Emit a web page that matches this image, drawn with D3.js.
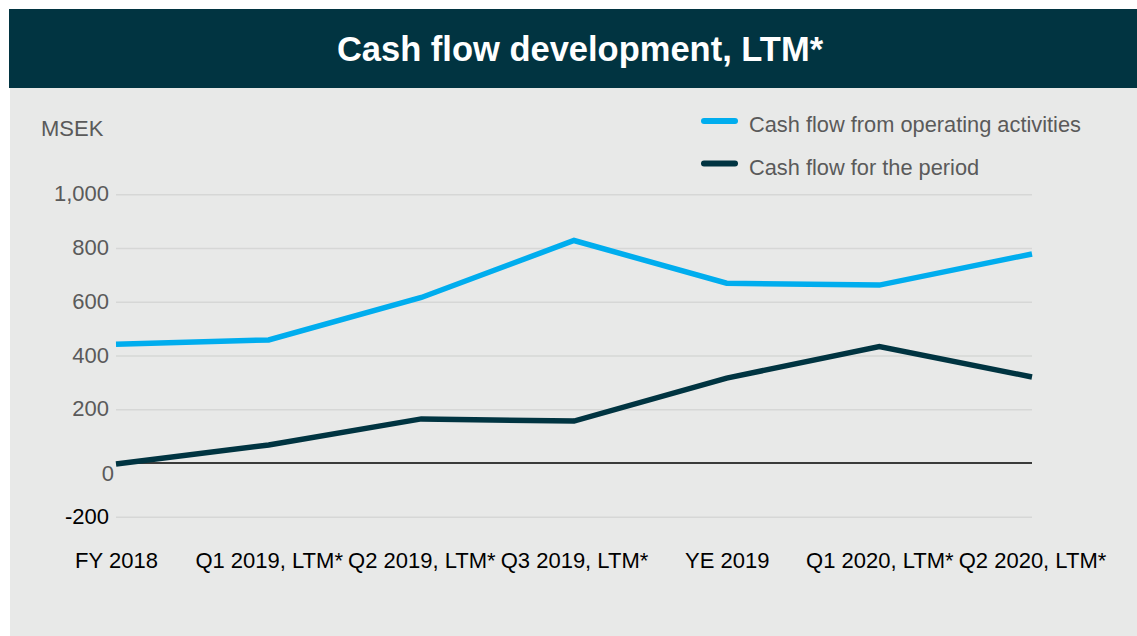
<!DOCTYPE html>
<html>
<head>
<meta charset="utf-8">
<script src="https://d3js.org/d3.v7.min.js"></script>
<style>
  body { margin: 0; background: #ffffff; }
  text { font-family: "Liberation Sans", Arial, sans-serif; }
</style>
</head>
<body>
<div id="chart"></div>
<script>
/////////////////////////////////////////////////////////
//Cash flow development, LTM*
/////////////////////////////////////////////////////////

//categories on the x axis
var periods = ["FY 2018", "Q1 2019, LTM*", "Q2 2019, LTM*", "Q3 2019, LTM*",
               "YE 2019", "Q1 2020, LTM*", "Q2 2020, LTM*"];

//series values, MSEK
var operatingCF = [442, 458, 616, 828, 669, 662, 778];
var periodCF    = [-4, 67, 164, 156, 316, 433, 320];

//y axis ticks
var yTicks = [-200, 0, 200, 400, 600, 800, 1000];

var seriesNames = ["Cash flow from operating activities", "Cash flow for the period"];

var cfg = {
  w: 1137,
  h: 636,
  title: "Cash flow development, LTM*",
  headColor: "#013441",
  panelColor: "#e8e9e8",
  gridColor: "#d6d7d6",
  textColor: "#5a5a5a",
  colors: ["#00adee", "#003441"],
  lineWidth: 5.5
};

//plain hyphen for negatives, comma thousands
var fmt = d3.formatLocale({decimal: ".", thousands: ",", grouping: [3], currency: ["", ""], minus: "-"}).format(",d");

var svg = d3.select("#chart")
  .append("svg")
    .attr("width", cfg.w)
    .attr("height", cfg.h);

//grey panel and title band
svg.append("rect")
  .attr("x", 10).attr("y", 88)
  .attr("width", cfg.w - 10).attr("height", cfg.h - 88)
  .style("fill", cfg.panelColor);

svg.append("rect")
  .attr("x", 9).attr("y", 9)
  .attr("width", cfg.w - 9).attr("height", 79)
  .style("fill", cfg.headColor);

svg.append("text")
  .attr("x", 580).attr("y", 61)
  .attr("text-anchor", "middle")
  .style("font-size", "34.5px")
  .style("font-weight", "bold")
  .style("fill", "#ffffff")
  .text(cfg.title);

//scales
var x = d3.scalePoint()
  .domain(periods)
  .range([116, 1032]);

var y = d3.scaleLinear()
  .domain([-200, 1000])
  .range([516.7, 194.3]);

//grid lines (0 gets the black base line instead)
var yAxis = d3.axisLeft(y)
  .tickValues(yTicks)
  .tickSize(-(x.range()[1] - x.range()[0]))
  .tickPadding(7)
  .tickFormat(fmt);

var gy = svg.append("g")
  .attr("transform", "translate(" + x.range()[0] + ",0)")
  .call(yAxis);

gy.select(".domain").remove();
gy.selectAll(".tick line")
  .style("stroke", function(d){ return d === 0 ? "none" : cfg.gridColor; })
  .style("stroke-width", 1.5);
gy.selectAll(".tick text")
  .style("font-size", "22px")
  .style("font-family", "'Liberation Sans', Arial, sans-serif")
  .style("fill", function(d){ return d < 0 ? "#000000" : cfg.textColor; })
  .attr("x", function(d){ return d === 0 ? -2 : -7; })
  .attr("dy", function(d){ return d === 0 ? "0.8em" : "0.3em"; });

//zero line
svg.append("line")
  .attr("x1", x.range()[0]).attr("x2", x.range()[1])
  .attr("y1", y(0)).attr("y2", y(0))
  .style("stroke", "#000000")
  .style("stroke-width", 1.5);

//unit label
svg.append("text")
  .attr("x", 41).attr("y", 136)
  .style("font-size", "22px")
  .style("fill", cfg.textColor)
  .text("MSEK");

//x axis labels
var xAxis = d3.axisBottom(x).tickSize(0).tickPadding(0);
var gx = svg.append("g")
  .attr("transform", "translate(0,568)")
  .call(xAxis);
gx.select(".domain").remove();
gx.selectAll(".tick text")
  .attr("y", 0).attr("dy", 0)
  .style("font-size", "22px")
  .style("font-family", "'Liberation Sans', Arial, sans-serif")
  .style("fill", "#000000");

//lines
var line = d3.line()
  .x(function(d, i){ return x(periods[i]); })
  .y(function(d){ return y(d); });

[operatingCF, periodCF].forEach(function(s, i){
  svg.append("path")
    .datum(s)
    .attr("d", line)
    .style("fill", "none")
    .style("stroke", cfg.colors[i])
    .style("stroke-width", cfg.lineWidth)
    .style("stroke-linejoin", "miter");
});

//legend
var legend = svg.selectAll(".legend")
  .data(seriesNames)
  .enter().append("g")
    .attr("class", "legend")
    .attr("transform", function(d, i){ return "translate(702," + (121 + i * 42.5) + ")"; });

legend.append("line")
  .attr("x1", 2).attr("x2", 33)
  .attr("y1", 0).attr("y2", 0)
  .style("stroke", function(d, i){ return cfg.colors[i]; })
  .style("stroke-width", 6)
  .style("stroke-linecap", "round");

legend.append("text")
  .attr("x", 47).attr("y", 11)
  .style("font-size", "21.8px")
  .style("fill", cfg.textColor)
  .text(function(d){ return d; });
</script>
</body>
</html>
